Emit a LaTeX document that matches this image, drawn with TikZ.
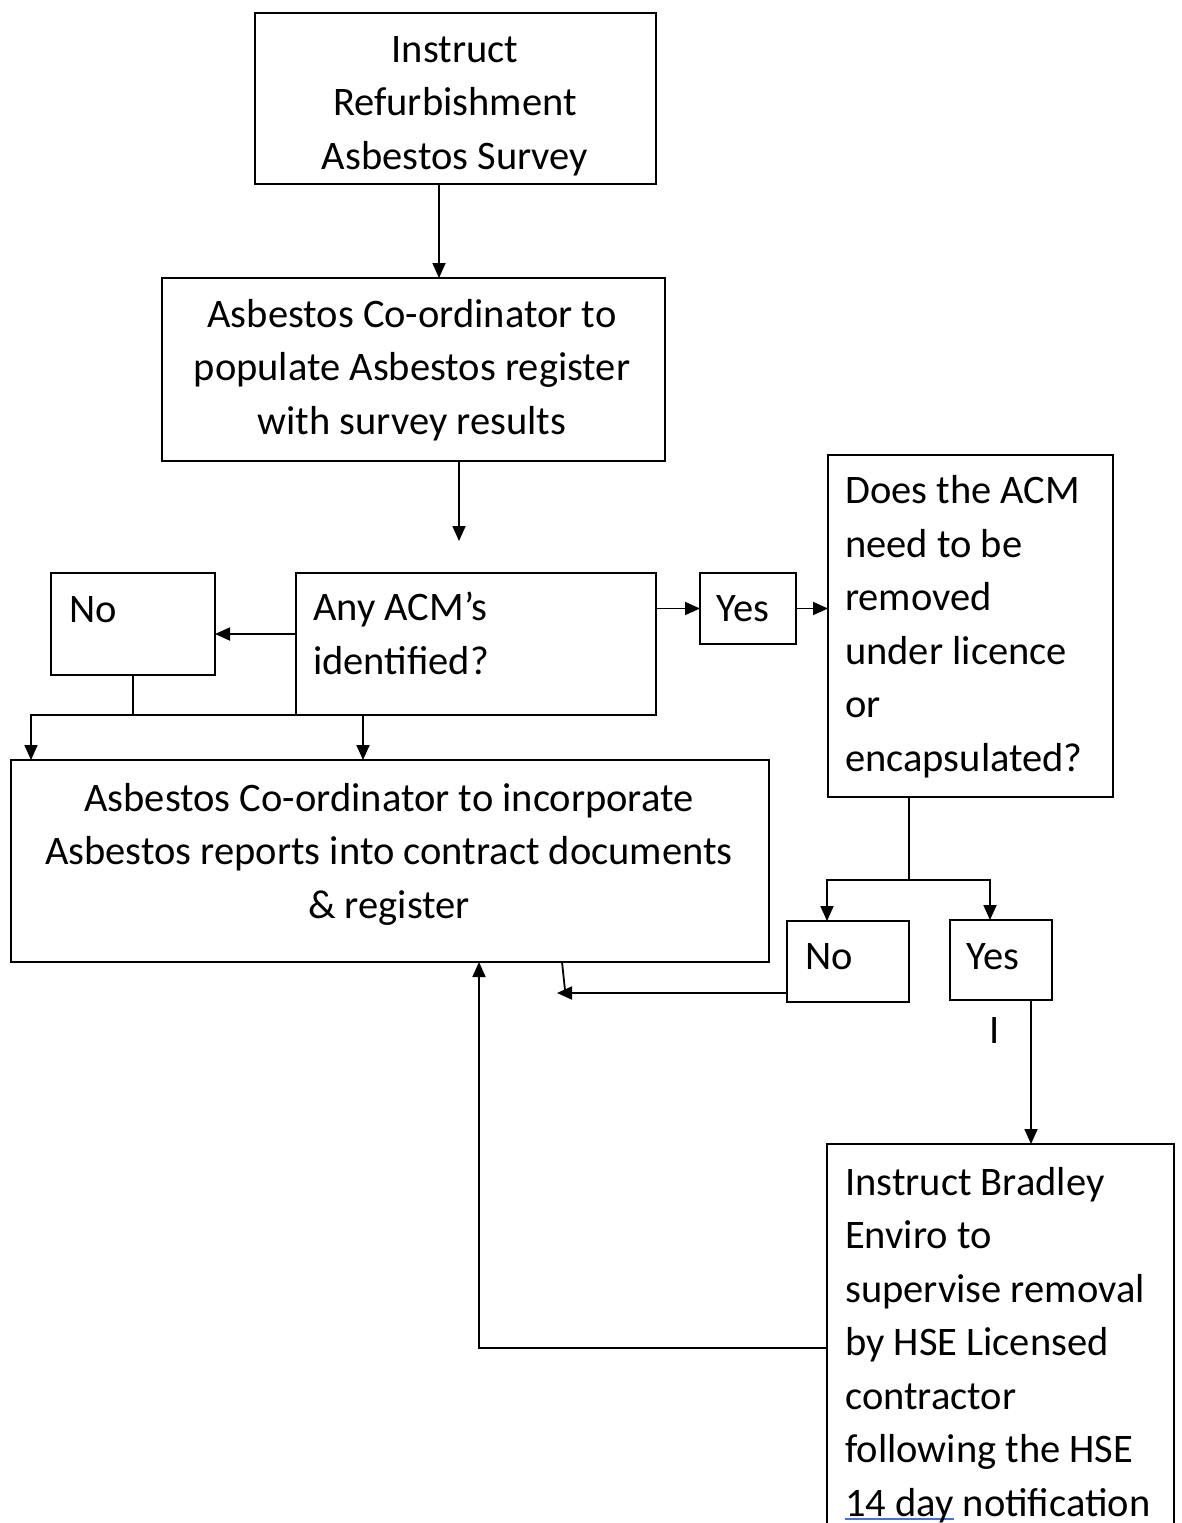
\documentclass[tikz,border=0pt]{standalone}
\usepackage{fontspec}
\setmainfont{Carlito}
\usepackage{tikz}
\usetikzlibrary{arrows.meta}

\definecolor{ulblue}{RGB}{68,114,216}
\newcommand\flowfont{\fontsize{40.5}{53.5}\selectfont}
\newlength\marklen
\newcommand\spellmark[1]{\settowidth\marklen{#1}\rlap{\color{ulblue}\rule[-4pt]{\marklen}{1.8pt}}#1}

\tikzset{
  box/.style={draw,line width=1.8pt,inner sep=0pt,outer sep=0pt,anchor=north west},
  txt/.style={font=\flowfont,inner sep=0pt},
  wire/.style={line width=1.8pt},
  arr/.style={wire,-{Triangle[length=15pt,width=13pt]}}
}

\begin{document}
\begin{tikzpicture}[x=1pt,y=-1pt]
  \useasboundingbox (0,0) rectangle (1182,1523);
  \clip (0,0) rectangle (1182,1523);
  % boxes
  \node[box,minimum width=401pt,minimum height=171pt] (survey) at (255,13) {};
  \node[box,minimum width=503pt,minimum height=183pt] (register) at (162,278) {};
  \node[box,minimum width=360pt,minimum height=142pt] (query) at (296,573) {};
  \node[box,minimum width=164pt,minimum height=102pt] (noA) at (51,573) {};
  \node[box,minimum width=758pt,minimum height=202pt] (report) at (11,760) {};
  \node[box,minimum width=96pt,minimum height=71pt] (yesA) at (700,573) {};
  \node[box,minimum width=285pt,minimum height=342pt] (licence) at (828,455) {};
  \node[box,minimum width=122pt,minimum height=81pt] (noB) at (787,921) {};
  \node[box,minimum width=102pt,minimum height=80pt] (yesB) at (950,920) {};
  \node[box,minimum width=347pt,minimum height=420pt] (bradley) at (827,1144) {};
  % texts (base = last line)
  \node[txt,anchor=base,align=center] (surveytxt) at (455,169) {Instruct\\Refurbishment\\Asbestos Survey};
  \node[txt,anchor=base,align=center] (registertxt) at (412,434) {Asbestos Co-ordinator to\\populate Asbestos register\\with survey results};
  \node[txt,anchor=base west,align=left] (querytxt) at (313,674) {Any ACM’s\\identified?};
  \node[txt,anchor=base west] (noAtxt) at (69,622) {No};
  \node[txt,anchor=base,align=center] (reporttxt) at (389,918) {Asbestos Co-ordinator to incorporate\\Asbestos reports into contract documents\\\& register};
  \node[txt,anchor=base west] (yesAtxt) at (716,621) {Yes};
  \node[txt,anchor=base west,align=left] (licencetxt) at (845,771) {Does the ACM\\need to be\\removed\\under licence\\or\\encapsulated?};
  \node[txt,anchor=base west] (noBtxt) at (805,969) {No};
  \node[txt,anchor=base west] (yesBtxt) at (966,969) {Yes};
  \node[txt,anchor=base] (stray) at (995,1043) {I};
  \node[txt,anchor=base west,align=left] (bradleytxt) at (845,1516) {Instruct Bradley\\Enviro to\\supervise removal\\by HSE Licensed\\contractor\\following the HSE\\\spellmark{14 day} notification};
  % connectors
  \coordinate (gap) at (459,541);
  \coordinate (split) at (909,880);
  \coordinate (back) at (557,993);
  \draw[arr] (survey.south -| 439,0) -- (register.north -| 439,0);
  \draw[arr] (register.south -| gap) -- (gap);
  \draw[arr] (query.west |- 0,634) -- (noA.east |- 0,634);
  \draw[wire] (noA.south) -- (noA.south |- query.south);
  \draw[arr] (query.south west) -| (report.north -| 31,0);
  \draw[arr] (query.south -| 363,0) -- (report.north -| 363,0);
  \draw[arr] (query.east |- yesA.west) -- (yesA.west);
  \draw[arr] (yesA.east) -- (licence.west |- yesA.east);
  \draw[wire] (licence.south -| split) -- (split);
  \draw[arr] (split) -| (noB.north -| 827,0);
  \draw[arr] (split) -| (yesB.north -| 990,0);
  \draw[arr] (noB.west |- back) -- (back);
  \draw[wire] (report.south -| 562,0) -- (565,990);
  \draw[arr] (yesB.south -| 1031,0) -- (bradley.north -| 1031,0);
  \draw[arr] (bradley.west |- 0,1348) -| (report.south -| 479,0);
\end{tikzpicture}
\end{document}
